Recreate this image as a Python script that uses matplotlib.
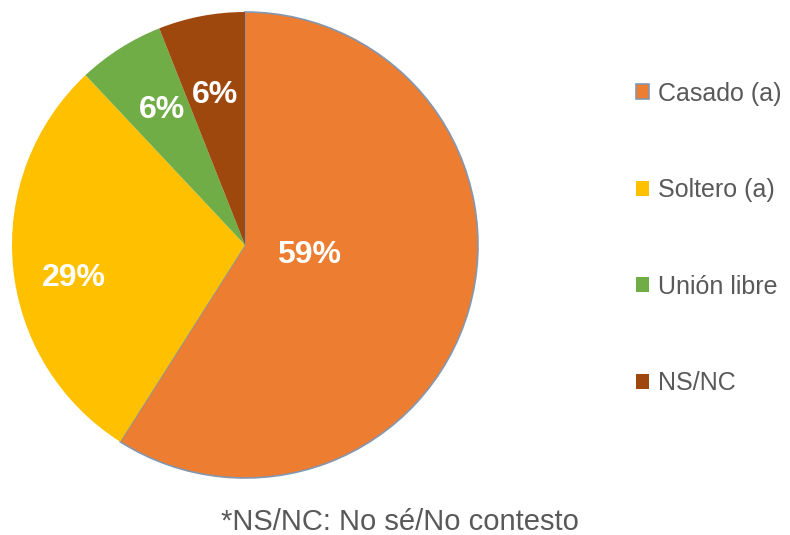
import numpy as np
import matplotlib
matplotlib.use("Agg")
import matplotlib.pyplot as plt

plt.rcParams["font.family"] = ["Liberation Sans", "DejaVu Sans"]

labels = ["Casado (a)", "Soltero (a)", "Unión libre", "NS/NC"]
values = [59, 29, 6, 6]
colors = ["#ED7D31", "#FFC000", "#70AD47", "#9E480E"]
# label placement in polar form (angle deg, radius fraction)
label_pos = [(-8.7, 0.28), (190.9, 0.75), (121.5, 0.68), (101.3, 0.655)]
note = "*NS/NC: No sé/No contesto"

fig = plt.figure(figsize=(7.9, 5.35), dpi=100)
ax = fig.add_axes([12 / 790, (535 - 478) / 535, 466 / 790, 466 / 535])

wedges, _ = ax.pie(values, colors=colors, startangle=90, counterclock=False,
                   radius=1.0, wedgeprops=dict(linewidth=0))
wedges[0].set_edgecolor("#8497B0")
wedges[0].set_linewidth(1.2)

total = sum(values)
for v, (ang, r) in zip(values, label_pos):
    a = np.deg2rad(ang)
    ax.text(r * np.cos(a), r * np.sin(a), f"{v / total * 100:.0f}%",
            ha="center", va="center", color="white", fontsize=23, fontweight="bold")
ax.set_xlim(-1, 1)
ax.set_ylim(-1, 1)
ax.set_aspect("equal")
ax.axis("off")

leg = fig.legend(wedges, labels, loc="upper left", bbox_to_anchor=(613 / 790, 1 - 59 / 535),
                 frameon=False, fontsize=18, labelspacing=2.9, handlelength=0.55,
                 handleheight=0.55, handletextpad=0.35, labelcolor="#595959")

fig.text(400 / 790, 1 - 522 / 535, note, ha="center", va="center",
         fontsize=21, color="#595959")

fig.savefig("out.png", dpi=100)
